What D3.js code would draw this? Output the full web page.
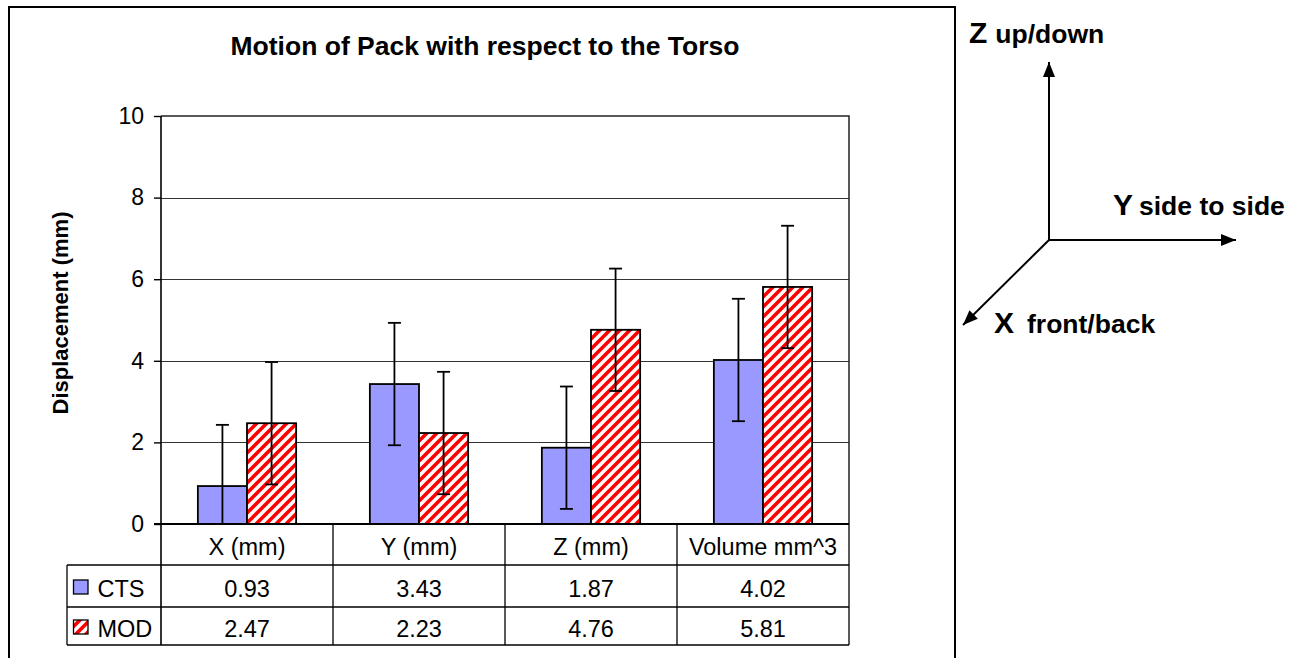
<!DOCTYPE html>
<html>
<head>
<meta charset="utf-8">
<script src="https://cdn.jsdelivr.net/npm/d3@7"></script>
<style>
  html, body { margin: 0; padding: 0; background: #fff; }
  svg { display: block; }
  text { font-family: "Liberation Sans", Arial, sans-serif; fill: #000; }
</style>
</head>
<body>
<script>
// ---------- data ----------
const categories = ["X (mm)", "Y (mm)", "Z (mm)", "Volume mm^3"];
const seriesNames = ["CTS", "MOD"];
const ctsValues = [0.93, 3.43, 1.87, 4.02];
const modValues = [2.47, 2.23, 4.76, 5.81];
const ctsErrors = [1.5, 1.5, 1.5, 1.5];
const modErrors = [1.5, 1.5, 1.5, 1.5];
const yTicks = [0, 2, 4, 6, 8, 10];
const chartTitle = "Motion of Pack with respect to the Torso";
const yAxisTitle = "Displacement (mm)";

const series = [
  { name: seriesNames[0], values: ctsValues, errors: ctsErrors },
  { name: seriesNames[1], values: modValues, errors: modErrors }
];

// ---------- layout ----------
const W = 1306, H = 658;
const plot = { left: 161, right: 849, top: 116, bottom: 524 };
const table = { left: 67, headerBottom: 565, row1Bottom: 607, row2Bottom: 645 };
const FS = 23.5;

const svg = d3.select("body").append("svg").attr("width", W).attr("height", H);

const defs = svg.append("defs");
const pat = defs.append("pattern")
  .attr("id", "hatch").attr("patternUnits", "userSpaceOnUse")
  .attr("width", 10).attr("height", 10);
pat.append("rect").attr("width", 10).attr("height", 10).attr("fill", "#fff");
pat.append("path")
  .attr("d", "M-2,2 L2,-2 M0,10 L10,0 M8,12 L12,8")
  .attr("stroke", "#ff0000").attr("stroke-width", 3.6);

const fills = { CTS: "#9999ff", MOD: "url(#hatch)" };

// outer chart frame
svg.append("path")
  .attr("d", `M9,${H + 5} L9,7 L955,7 L955,${H + 5}`)
  .attr("fill", "none").attr("stroke", "#000").attr("stroke-width", 2);

// scales
const y = d3.scaleLinear().domain([0, 10]).range([plot.bottom, plot.top]);
const x = d3.scaleBand().domain(categories).range([plot.left, plot.right]);
const xs = d3.scaleBand().domain(seriesNames).range([0, x.bandwidth()])
  .paddingInner(0).paddingOuter(0.75);

// gridlines
svg.append("g").selectAll("line").data(yTicks.filter(t => t > 0 && t < 10)).join("line")
  .attr("x1", plot.left).attr("x2", plot.right)
  .attr("y1", d => Math.round(y(d)) + 0.5).attr("y2", d => Math.round(y(d)) + 0.5)
  .attr("stroke", "#333").attr("stroke-width", 1.1);

// plot border (top & right)
svg.append("path")
  .attr("d", `M${plot.left},${y(10)} L${plot.right},${y(10)} L${plot.right},${plot.bottom}`)
  .attr("fill", "none").attr("stroke", "#222").attr("stroke-width", 1.5);

// bars
const barG = svg.append("g");
series.forEach(s => {
  barG.selectAll(null).data(categories).join("rect")
    .attr("x", (c) => x(c) + xs(s.name))
    .attr("width", xs.bandwidth())
    .attr("y", (c, i) => y(s.values[i]))
    .attr("height", (c, i) => y(0) - y(s.values[i]))
    .attr("fill", fills[s.name])
    .attr("stroke", "#000").attr("stroke-width", 1.8);
});

// error bars
const errG = svg.append("g").attr("stroke", "#000").attr("stroke-width", 1.8);
const cap = 6.5;
series.forEach(s => {
  categories.forEach((c, i) => {
    const cx = x(c) + xs(s.name) + xs.bandwidth() / 2;
    const lo = Math.max(0, s.values[i] - s.errors[i]);
    const hi = s.values[i] + s.errors[i];
    errG.append("line").attr("x1", cx).attr("x2", cx).attr("y1", y(lo)).attr("y2", y(hi));
    errG.append("line").attr("x1", cx - cap).attr("x2", cx + cap).attr("y1", y(hi)).attr("y2", y(hi));
    if (s.values[i] - s.errors[i] > 0) {
      errG.append("line").attr("x1", cx - cap).attr("x2", cx + cap).attr("y1", y(lo)).attr("y2", y(lo));
    }
  });
});

// y axis
const yAxis = d3.axisLeft(y).tickValues(yTicks).tickSize(7).tickPadding(10).tickFormat(d3.format("d"));
const yg = svg.append("g").attr("transform", `translate(${plot.left},0)`).call(yAxis);
yg.select(".domain").remove();
yg.selectAll(".tick line").attr("stroke", "#000").attr("stroke-width", 1.4);
yg.selectAll(".tick text").attr("font-size", 23).attr("font-family", "Liberation Sans, Arial, sans-serif").attr("fill", "#000");

// axis line (extends into the data table)
svg.append("line").attr("x1", plot.left).attr("x2", plot.left)
  .attr("y1", plot.top).attr("y2", table.row2Bottom)
  .attr("stroke", "#000").attr("stroke-width", 1.6);
// category axis line
svg.append("line").attr("x1", plot.left - 7).attr("x2", plot.right)
  .attr("y1", plot.bottom).attr("y2", plot.bottom)
  .attr("stroke", "#000").attr("stroke-width", 2);

// ---------- data table ----------
const tg = svg.append("g").attr("stroke", "#000").attr("stroke-width", 1.3);
const bounds = categories.map(c => x(c)).concat([x(categories[categories.length - 1]) + x.bandwidth()]);
bounds.slice(1).forEach(bx => {
  tg.append("line").attr("x1", bx).attr("x2", bx).attr("y1", plot.bottom).attr("y2", table.row2Bottom);
});
tg.append("line").attr("x1", table.left).attr("x2", table.left).attr("y1", table.headerBottom).attr("y2", table.row2Bottom);
[table.headerBottom, table.row1Bottom, table.row2Bottom].forEach(ly => {
  tg.append("line").attr("x1", table.left).attr("x2", plot.right).attr("y1", ly).attr("y2", ly);
});

// header labels
svg.append("g").selectAll("text").data(categories).join("text")
  .attr("x", c => x(c) + x.bandwidth() / 2)
  .attr("y", (plot.bottom + table.headerBottom) / 2 + 10)
  .attr("text-anchor", "middle").attr("font-size", FS)
  .text(c => c);

// rows
const rowCenters = [(table.headerBottom + table.row1Bottom) / 2, (table.row1Bottom + table.row2Bottom) / 2];
series.forEach((s, r) => {
  const cy = rowCenters[r];
  svg.append("g").selectAll("text").data(s.values).join("text")
    .attr("x", (v, i) => x(categories[i]) + x.bandwidth() / 2)
    .attr("y", cy + 10.5)
    .attr("text-anchor", "middle").attr("font-size", FS)
    .text(v => d3.format(".2f")(v));
  svg.append("rect").attr("x", 73.5).attr("y", cy - 6).attr("width", 14.5).attr("height", 14)
    .attr("fill", fills[s.name]).attr("stroke", "#000").attr("stroke-width", 1.3);
  svg.append("text").attr("x", 97.5).attr("y", cy + 10.5).attr("font-size", FS).text(s.name);
});

// titles
svg.append("text").attr("x", 485).attr("y", 55).attr("text-anchor", "middle")
  .attr("font-size", 26.5).attr("font-weight", "bold").text(chartTitle);
svg.append("text")
  .attr("transform", "translate(68,313) rotate(-90)")
  .attr("text-anchor", "middle").attr("font-size", 22).attr("font-weight", "bold")
  .text(yAxisTitle);

// ---------- axes orientation diagram ----------
const dg = svg.append("g");
const origin = [1049, 240];
const tips = { Z: [1049, 62], Y: [1236, 240], X: [963, 325] };
defs.append("marker").attr("id", "arrow").attr("viewBox", "0 0 15 12")
  .attr("refX", 15).attr("refY", 6).attr("markerWidth", 15).attr("markerHeight", 12)
  .attr("markerUnits", "userSpaceOnUse").attr("orient", "auto")
  .append("path").attr("d", "M0,0 L15,6 L0,12 Z").attr("fill", "#000");
Object.values(tips).forEach(t => {
  dg.append("line").attr("x1", origin[0]).attr("y1", origin[1]).attr("x2", t[0]).attr("y2", t[1])
    .attr("stroke", "#000").attr("stroke-width", 2).attr("marker-end", "url(#arrow)");
});
function label(xp, yp, big, small, gap) {
  const t = dg.append("text").attr("x", xp).attr("y", yp).attr("font-weight", "bold");
  t.append("tspan").attr("font-size", 30).text(big);
  t.append("tspan").attr("font-size", 26.5).attr("dx", gap).text(small);
}
label(969, 43, "Z", "up/down", 8);
label(1113, 215, "Y", "side to side", 6);
label(994, 333, "X", "front/back", 13);
</script>
</body>
</html>
